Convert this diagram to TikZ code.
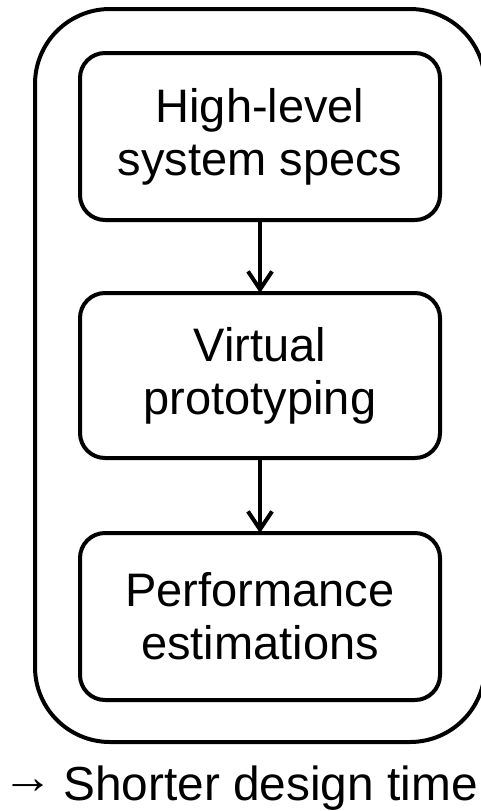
\documentclass[tikz,border=0pt]{standalone}
\usepackage{fontspec}
\setmainfont{Liberation Sans}
\usetikzlibrary{arrows.meta}
\tikzset{
  stage/.style={draw, line width=4pt, rounded corners=25pt, outer sep=0pt,
    minimum width=360pt, align=center, inner sep=0pt,
    font=\fontsize{47pt}{53pt}\selectfont},
  frame/.style={draw, line width=4pt, rounded corners=75pt, outer sep=0pt,
    minimum width=450pt, minimum height=733pt, inner sep=0pt},
  flow/.style={line width=4pt, -{Straight Barb[length=18pt, width=24pt, line width=4pt]}},
  note/.style={font=\fontsize{47.8pt}{53pt}\selectfont, inner sep=0pt, anchor=base east}
}
\begin{document}
\begin{tikzpicture}[x=1pt, y=-1pt]
  \useasboundingbox (0,0) rectangle (481,811);
  % enclosing flow frame
  \node[frame] (outer) at (260,375.5) {};
  % the three stages
  \node[stage, minimum height=167pt] (specs) at (260,136.5) {High-level\\system specs};
  \node[stage, minimum height=165pt] (proto) at (260,375.5) {Virtual\\prototyping};
  \node[stage, minimum height=167pt] (perf) at (260,616.5) {Performance\\estimations};
  \draw[flow] (specs.south) -- (proto.north);
  \draw[flow] (proto.south) -- (perf.north);
  % outcome line
  \node[note] (result) at (478,800) {\raisebox{7pt}{\scalebox{1.07}[1]{→}}\hspace{10pt}Shorter design time};
\end{tikzpicture}
\end{document}
